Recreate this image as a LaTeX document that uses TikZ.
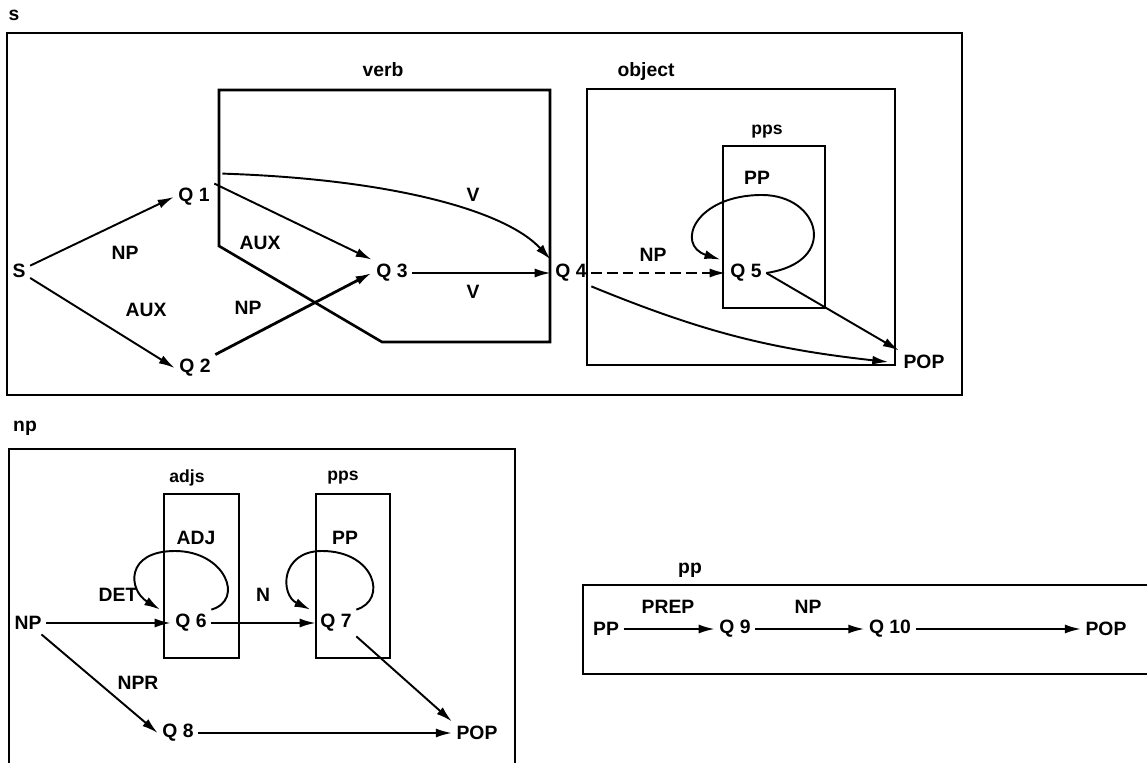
\documentclass[tikz,border=0pt]{standalone}
\usepackage{fontspec}
\setmainfont{Liberation Sans}
\usetikzlibrary{arrows.meta}

\begin{document}
\begin{tikzpicture}[x=0.02cm, y=-0.02cm, font=\fontsize{11}{13}\selectfont\bfseries,
frame/.style={line width=1.5pt},
state/.style={inner sep=2.5pt},
title/.style={inner sep=1pt},
small/.style={inner sep=1pt,font=\fontsize{10}{12}\selectfont\bfseries},
arc/.style={-{Latex[length=3.2mm,width=1.8mm]},line width=1.1pt}]
\useasboundingbox (0,0) rectangle (1147,763);

% s network
\draw[frame] (7,33) rectangle (962,395);
\draw[frame] (219,90) -- (550,90) -- (550,342) -- (382,342) -- (219,246) -- cycle;
\draw[frame] (587,89) rectangle (895,365);
\draw[frame] (723,146) rectangle (825,308);
\node[title] (ts) at (14,15) {s};
\node[title] (tverb) at (383,70) {verb};
\node[title] (tobject) at (646,72) {object};
\node[small] (tpps1) at (767,132) {pps};

\node[state] (S) at (19,271) {S};
\node[state] (Q1) at (194,197) {Q 1};
\node[state] (Q2) at (195,368) {Q 2};
\node[state] (Q3) at (392,273) {Q 3};
\node[state] (Q4) at (571,273) {Q 4};
\node[state] (Q5) at (746,273) {Q 5};
\node[state] (pop1) at (924,362) {POP};

\node[title] (l1) at (125,253) {NP};
\node[title] (l2) at (146,310) {AUX};
\node[title] (l3) at (260,243) {AUX};
\node[title] (l4) at (248,308) {NP};
\node[title] (l5) at (473,195) {V};
\node[title] (l6) at (473,292) {V};
\node[title] (l7) at (653,255) {NP};
\node[title] (l8) at (757,178) {PP};

\draw[arc] (S) -- (Q1.west);
\draw[arc] (S) -- (Q2.west);
\draw[arc] (Q1.north east) -- (Q3.north west);
\draw[arc] ([shift={(8,-10)}]Q1.north east) .. controls (390,179) and (505,210) .. (Q4.north west);
\draw[arc,line width=1.6pt] (Q2.north east) -- (Q3.west);
\draw[arc] (Q3) -- (Q4);
\draw[arc,dash pattern={on 6pt off 3pt}] (Q4) -- (Q5);
\draw[arc] (Q5.east) .. controls (840,262) and (820,195) .. (762,195)
  .. controls (695,195) and (675,245) .. ([xshift=-3pt]Q5.north west);
\draw[arc] (Q5.east) -- (pop1.north west);
\draw[arc] (Q4.south east) to[bend right=8] ([xshift=-6pt]pop1.west);

% np network
\draw[frame] (9,770) -- (9,449) -- (515,449) -- (515,770);
\draw[frame] (164,494) rectangle (239,658);
\draw[frame] (316,494) rectangle (390,658);
\node[title] (tnp) at (25,428) {np};
\node[small] (tadjs) at (187,478) {adjs};
\node[small] (tpps2) at (343,478) {pps};

\node[state] (NP) at (28,623) {NP};
\node[state] (Q6) at (191,623) {Q 6};
\node[state] (Q7) at (336,623) {Q 7};
\node[state] (Q8) at (178,733) {Q 8};
\node[state] (pop2) at (477,733) {POP};

\node[title] (l9) at (118,595) {DET};
\node[title] (l10) at (196,538) {ADJ};
\node[title] (l11) at (263,595) {N};
\node[title] (l12) at (345,538) {PP};
\node[title] (l13) at (138,683) {NPR};

\draw[arc] (NP) -- (Q6);
\draw[arc] (Q6) -- (Q7);
\draw[arc] (NP) -- (Q8.west);
\draw[arc] (Q8) -- (pop2);
\draw[arc] (Q7.south east) -- (pop2.north west);
\draw[arc] (Q6.north east) .. controls (245,600) and (225,551) .. (175,551)
  .. controls (125,551) and (128,590) .. ([xshift=-6pt]Q6.north west);
\draw[arc] (Q7.north east) .. controls (388,600) and (375,551) .. (322,551)
  .. controls (280,551) and (280,595) .. ([xshift=-3pt]Q7.north west);

% pp network
\draw[frame] (1150,585) -- (583,585) -- (583,674) -- (1150,674);
\node[title] (tpp) at (690,570) {pp};
\node[state] (PP) at (606,629) {PP};
\node[state] (Q9) at (735,629) {Q 9};
\node[state] (Q10) at (890,629) {Q 10};
\node[state] (pop3) at (1106,629) {POP};
\node[title] (l14) at (668,607) {PREP};
\node[title] (l15) at (808,607) {NP};

\draw[arc] (PP) -- (Q9);
\draw[arc] (Q9) -- (Q10);
\draw[arc] (Q10) -- (pop3);
\end{tikzpicture}
\end{document}
